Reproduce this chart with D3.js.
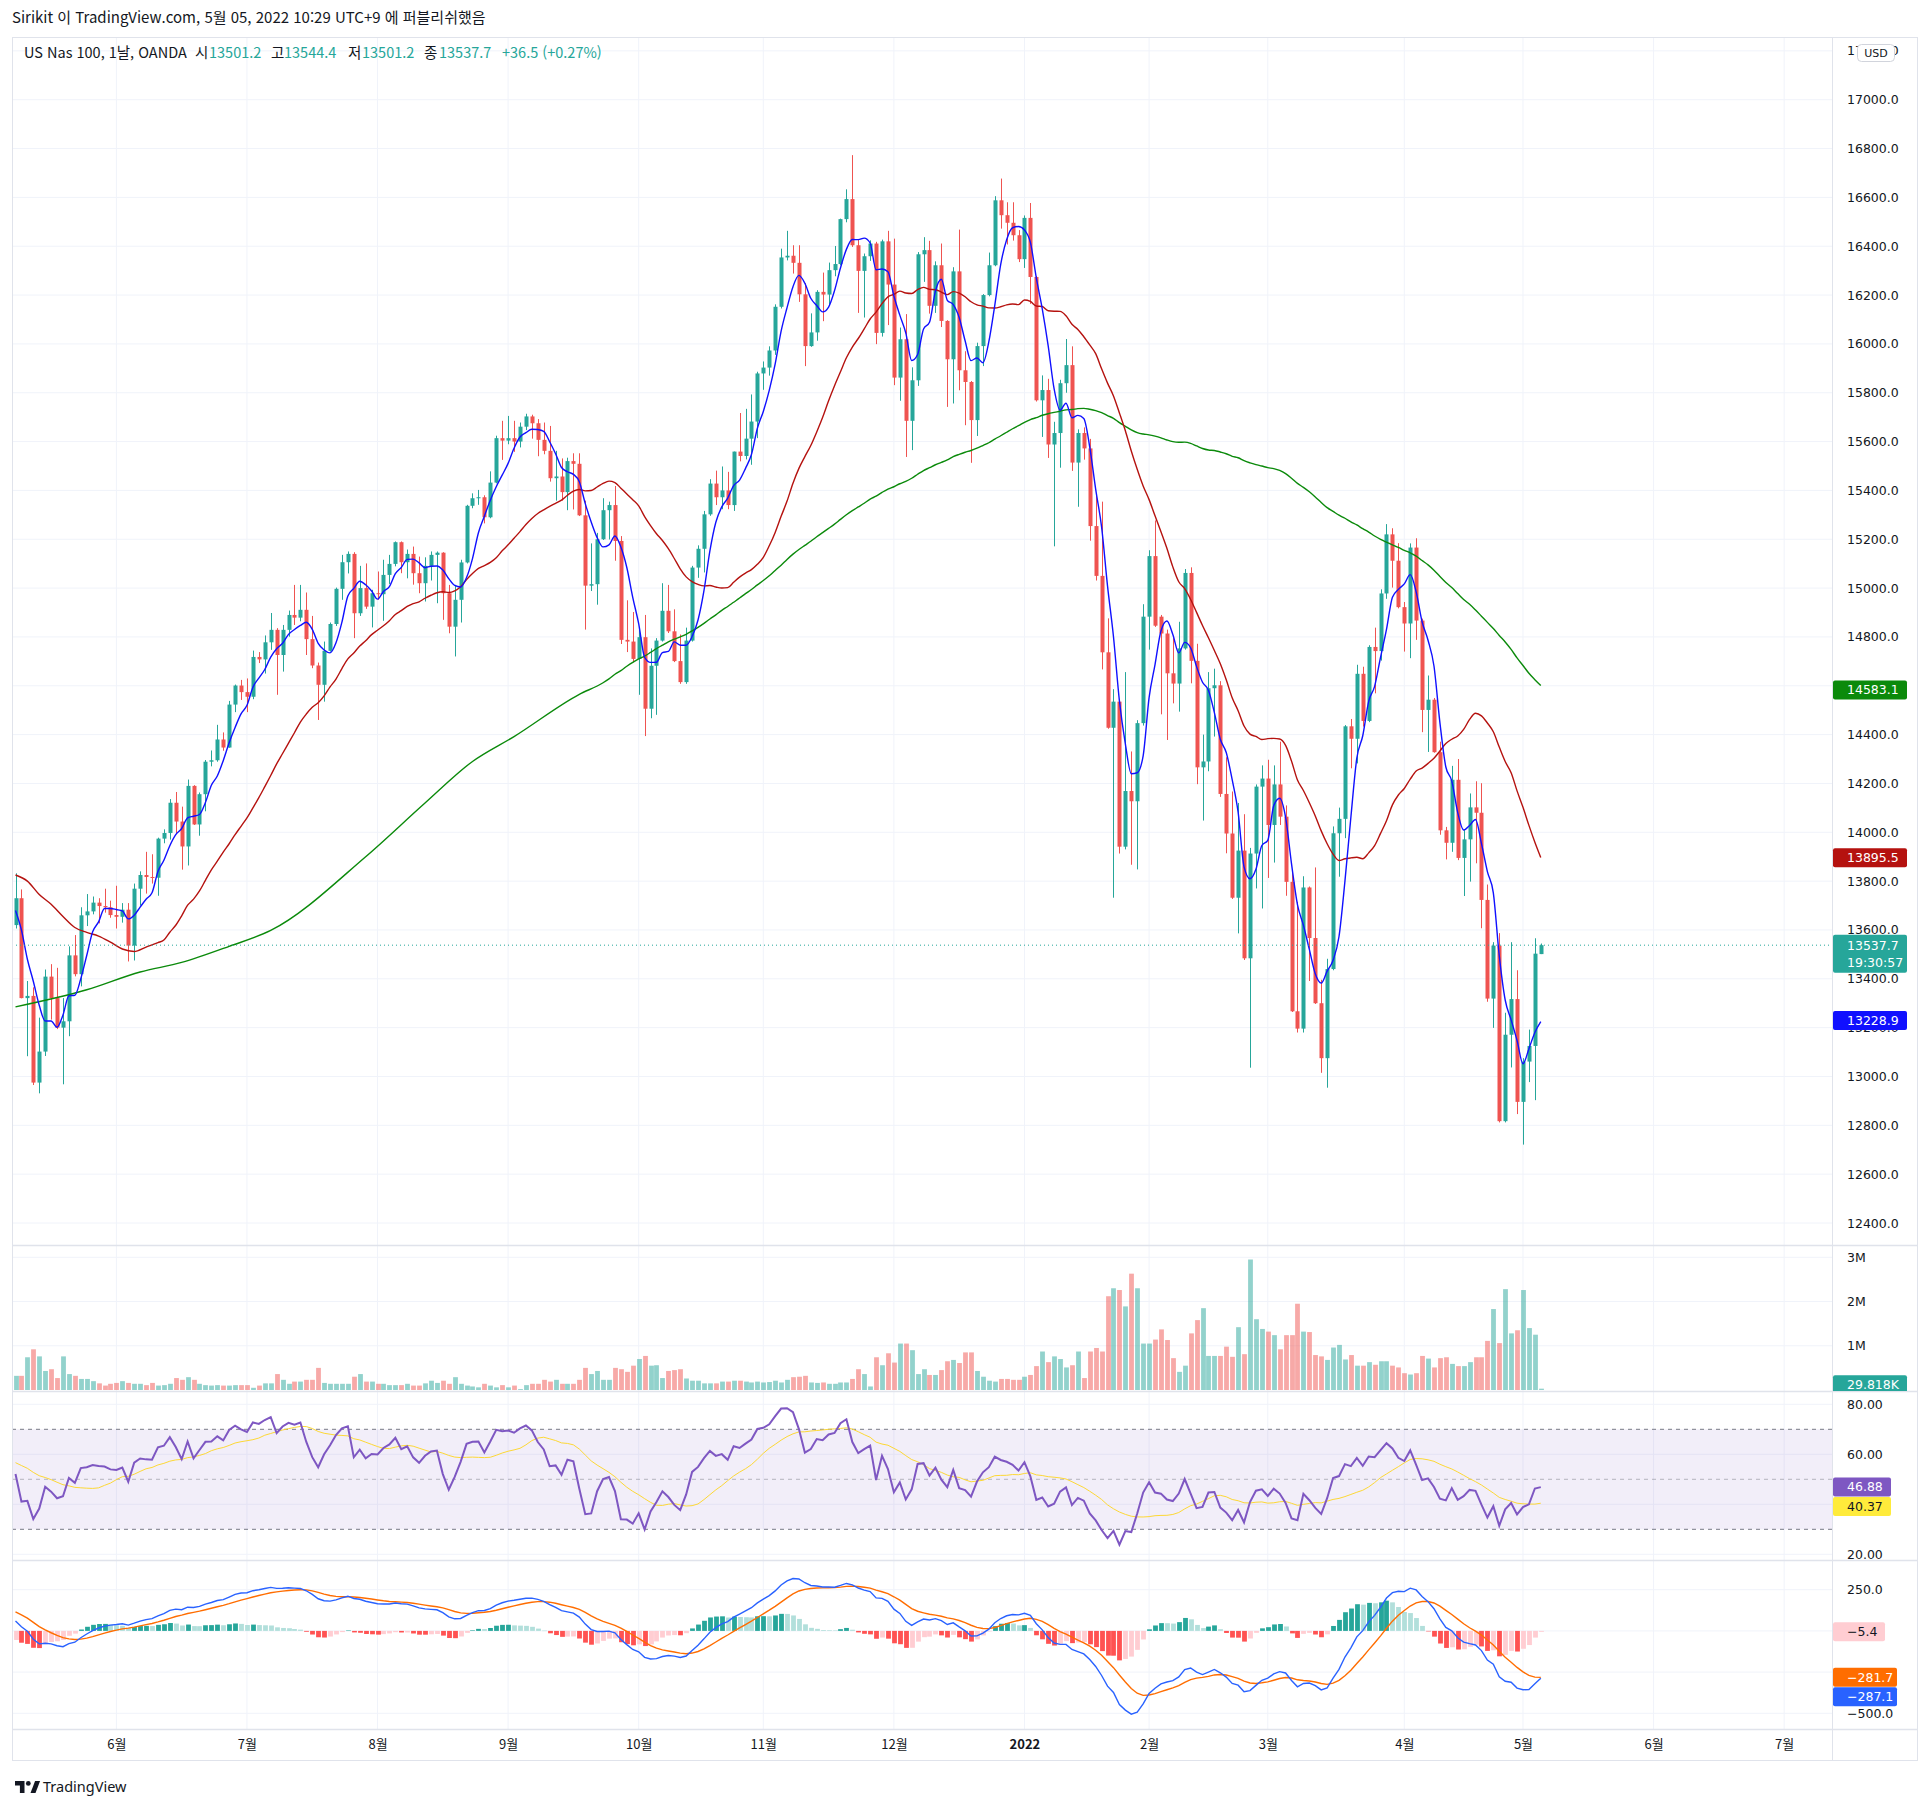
<!DOCTYPE html>
<html lang="ko">
<head>
<meta charset="UTF-8">
<title>US Nas 100, 1날, OANDA</title>
<script src="https://cdn.jsdelivr.net/npm/d3@7"></script>
<style>
  body { margin: 0; background: #ffffff; }
  svg { display: block; }
  .ax text { font-family: "DejaVu Sans", sans-serif; font-size: 12.5px; fill: #131722; }
  .ax .domain { display: none; }
  .tx text { font-family: "Noto Sans CJK KR", "Noto Sans", sans-serif; font-size: 13px; fill: #131722; }
  .tx .domain { display: none; }
</style>
</head>
<body>
<svg id="chart" width="1931" height="1808"></svg>
<script>
// ---- daily bars, 2021-05-07 .. 2022-05-05 (index based, as on the chart)
const opens = [
  13620,13730,13321,13330,12975,13102,13409,13321,13200,13226,
  13496,13419,13660,13676,13712,13698,13693,13661,13654,13683,
  13536,13769,13825,13817,13814,13974,13997,14121,14044,13942,
  14190,14032,14156,14289,14295,14380,14347,14523,14601,14574,
  14555,14718,14708,14778,14829,14726,14829,14890,14879,14911,
  14791,14683,14604,14743,14853,14997,15106,15140,14897,15000,
  14924,14979,14975,15054,15099,15188,15106,15140,15061,15020,
  15091,15136,15145,14979,14842,14952,15105,15337,15368,15372,
  15290,15432,15614,15604,15614,15600,15661,15703,15675,15607,
  15562,15450,15457,15393,15520,15509,15298,15010,15016,15200,
  15319,15340,15193,14788,14781,14710,14799,14506,14682,14785,
  14907,14823,14701,14615,14785,15084,15161,15302,15428,15372,
  15400,15340,15559,15541,15612,15682,15879,15903,15973,16152,
  16354,16361,16332,16203,15991,16047,16213,16202,16302,16327,
  16511,16593,16404,16299,16359,16411,16045,16420,16243,15862,
  16019,15685,15851,16367,16384,16156,16322,16094,15937,16297,
  15892,15844,15688,15991,16200,16322,16588,16527,16496,16445,
  16347,16516,16274,15769,15811,15588,15635,15839,15913,15514,
  15635,15572,15254,15050,14737,14428,14535,13941,14169,14127,
  14447,14883,15131,14883,14814,14651,14609,14753,15062,14702,
  14266,14290,14590,14602,14157,13995,13732,13925,13484,13913,
  14187,14220,14030,14196,14064,13797,13267,13196,13774,13567,
  13300,13075,13440,13996,14055,14434,14383,14649,14456,14759,
  14742,14978,15220,15112,14922,14855,15166,14867,14501,14543,
  14328,14008,13957,14215,13895,13971,14102,14080,13723,13319,
  13536,12817,13171,13317,12896,13061,13125,13501.2
];
const highs = [
  13832,13766,13391,13365,13241,13438,13460,13445,13321,13533,
  13579,13693,13747,13737,13730,13769,13720,13781,13710,13710,
  13790,13840,13920,13910,13978,14012,14136,14165,14105,14216,
  14193,14163,14296,14335,14440,14409,14538,14605,14624,14630,
  14744,14738,14806,14898,14836,14849,14908,15013,15013,14982,
  14886,14695,14781,14859,15002,15136,15150,15147,15091,15101,
  14993,15068,15116,15136,15191,15191,15158,15170,15129,15126,
  15150,15150,15147,15013,15013,15116,15341,15388,15402,15380,
  15478,15624,15685,15705,15685,15678,15714,15710,15692,15678,
  15664,15562,15531,15534,15552,15552,15358,15183,15226,15368,
  15354,15418,15213,14950,14902,14840,14890,14753,14795,15020,
  15013,14913,14810,14838,15091,15175,15316,15446,15481,15498,
  15476,15559,15717,15734,15793,15886,15928,15990,16162,16390,
  16463,16404,16404,16249,16125,16220,16292,16333,16401,16513,
  16633,16773,16427,16370,16424,16418,16427,16463,16431,16067,
  16122,15904,16376,16437,16422,16338,16411,16097,16314,16468,
  15970,15848,16005,16204,16374,16605,16677,16580,16580,16466,
  16526,16577,16278,15871,15857,15681,15853,16020,15990,15650,
  15658,15611,15384,15354,14876,14586,14535,14656,14331,14459,
  14934,15155,15277,14890,14830,14795,14862,15078,15085,14772,
  14400,14656,14670,14619,14307,14167,14120,14074,13936,14196,
  14274,14297,14274,14371,14110,13844,13715,13820,13778,13856,
  13396,13482,14024,14101,14439,14464,14686,14678,14766,14838,
  14995,15262,15245,15184,14943,15183,15204,14875,14642,14550,
  14371,14022,14272,14300,14012,14159,14209,14201,13786,13550,
  13587,13261,13550,13435,13075,13192,13566,13544.4
];
const lows = [
  13606,13320,13083,12965,12931,13084,13233,13194,12968,13165,
  13410,13369,13616,13664,13627,13671,13650,13606,13630,13471,
  13475,13700,13749,13790,13740,13955,13970,13995,13847,13864,
  14030,13986,14086,14270,14289,14334,14346,14492,14542,14492,
  14545,14693,14650,14747,14563,14658,14801,14849,14864,14726,
  14672,14460,14535,14740,14845,14952,15060,14795,14886,14915,
  14839,14952,14866,15017,15089,15061,15040,15014,14979,14945,
  15031,14938,14870,14815,14720,14859,15101,15327,15341,15265,
  15286,15429,15525,15589,15558,15576,15647,15612,15540,15548,
  15436,15358,15358,15319,15322,15295,14830,14988,14932,15197,
  15199,15112,14771,14738,14696,14563,14394,14467,14481,14781,
  14816,14697,14608,14608,14781,15042,15064,15296,15340,15323,
  15323,15316,15519,15527,15505,15614,15812,15870,15955,16145,
  16342,16288,16172,15909,15988,16013,16093,16156,16277,16322,
  16498,16397,16127,16108,16340,15999,16030,16077,15831,15767,
  15537,15565,15828,16254,16124,16127,16069,15742,15756,15810,
  15667,15513,15623,15909,16195,16318,16472,16407,16423,16335,
  16311,16164,15764,15619,15533,15171,15493,15800,15480,15333,
  15526,15194,15031,14667,14424,13732,13913,13930,13867,13848,
  14437,14748,14841,14483,14378,14528,14494,14748,14610,14197,
  14048,14250,14392,14145,13914,13727,13586,13477,13036,13770,
  13688,13813,13876,14030,13740,13264,13180,13180,13391,13297,
  13015,12954,13435,13818,13976,14262,14282,14433,14451,14569,
  14703,14956,15002,14917,14740,14713,14788,14410,14329,14326,
  13990,13889,13920,13886,13739,13798,13873,13607,13306,13199,
  12812,12812,13037,12846,12721,12977,12903,13501.2
];
const closes = [
  13730,13321,13330,12975,13102,13409,13321,13200,13226,13496,
  13419,13660,13676,13712,13698,13693,13661,13654,13683,13536,
  13769,13825,13817,13814,13974,13997,14121,14044,13942,14190,
  14032,14156,14289,14295,14380,14347,14523,14601,14574,14555,
  14718,14708,14778,14829,14726,14829,14890,14879,14911,14791,
  14683,14604,14743,14853,14997,15106,15140,14897,15000,14924,
  14979,14975,15054,15099,15188,15106,15140,15061,15020,15091,
  15136,15145,14979,14842,14952,15105,15337,15368,15372,15290,
  15432,15614,15604,15614,15600,15661,15703,15675,15607,15562,
  15450,15457,15393,15520,15509,15298,15010,15016,15200,15319,
  15340,15193,14788,14781,14710,14799,14506,14682,14785,14907,
  14823,14701,14615,14785,15084,15161,15302,15428,15372,15400,
  15340,15559,15541,15612,15682,15879,15903,15973,16152,16354,
  16361,16332,16203,15991,16047,16213,16202,16302,16327,16511,
  16593,16404,16299,16359,16411,16045,16420,16243,15862,16019,
  15685,15851,16367,16384,16156,16322,16094,15937,16297,15892,
  15844,15688,15991,16200,16322,16588,16527,16496,16445,16347,
  16516,16274,15769,15811,15588,15635,15839,15913,15514,15635,
  15572,15254,15050,14737,14428,14535,13941,14169,14127,14447,
  14883,15131,14846,14814,14651,14609,14753,15062,14702,14266,
  14290,14590,14602,14157,13995,13732,13925,13484,13913,14187,
  14220,14030,14196,14064,13797,13267,13196,13774,13567,13300,
  13075,13440,13996,14055,14434,14383,14649,14456,14759,14742,
  14978,15220,15112,14922,14855,15166,14867,14501,14543,14328,
  14008,13957,14215,13895,13971,14102,14080,13723,13319,13536,
  12817,13171,13317,12896,13061,13125,13503,13537.7
];
// volume, millions
const volumes = [
  .32,.32,.74,.92,.76,.43,.47,.27,.76,.36,
  .32,.25,.25,.20,.15,.10,.14,.16,.20,.16,
  .14,.14,.11,.16,.10,.11,.14,.27,.23,.29,
  .23,.14,.11,.10,.11,.10,.10,.11,.11,.11,
  .05,.10,.15,.15,.36,.23,.14,.19,.19,.23,
  .23,.50,.16,.14,.14,.14,.14,.30,.36,.19,
  .19,.14,.14,.11,.11,.11,.14,.10,.10,.15,
  .21,.16,.21,.14,.29,.14,.10,.08,.06,.14,
  .10,.06,.11,.06,.10,.02,.11,.14,.14,.23,
  .19,.23,.14,.14,.14,.23,.50,.36,.43,.23,
  .23,.50,.47,.41,.55,.70,.77,.55,.56,.27,
  .43,.45,.47,.26,.21,.21,.15,.15,.15,.19,
  .19,.21,.21,.19,.17,.19,.17,.18,.21,.17,
  .23,.29,.30,.32,.17,.16,.17,.14,.14,.17,
  .17,.25,.47,.36,.08,.74,.56,.83,.62,1.05,
  1.05,.90,.36,.47,.34,.34,.45,.65,.68,.61,
  .85,.85,.43,.30,.21,.19,.25,.25,.23,.23,
  .30,.34,.54,.87,.63,.76,.70,.51,.56,.87,
  .27,.87,.95,.87,2.12,2.30,2.26,1.89,2.63,2.30,
  1.05,1.05,1.14,1.37,1.13,.72,.41,.55,1.28,1.58,
  1.85,.77,.77,.77,.98,.75,1.42,.81,2.95,1.60,
  1.38,1.32,1.24,.92,1.24,1.24,1.95,1.32,1.31,.79,
  .76,.68,.96,1.02,.69,.79,.55,.55,.63,.57,
  .65,.65,.55,.51,.38,.35,.38,.77,.71,.51,
  .72,.74,.59,.54,.54,.63,.74,.74,1.11,1.83,
  1.06,2.28,1.28,1.35,2.26,1.40,1.25,.029818
];

// moving-average values read at the left edge, before each window is full
const sma5Early = [[0, 13680], [1, 13600], [2, 13480], [3, 13390]];
const sma25Early = [[0, 13825], [2, 13800], [4, 13745], [6, 13705], [8, 13655], [10, 13610],
                    [12, 13590], [14, 13575], [16, 13550], [18, 13522], [20, 13512], [22, 13530]];
const sma100Early = [[0, 13285], [12, 13355], [21, 13428], [28, 13467], [36, 13533], [43, 13598],
                     [59, 13900], [69, 14120], [77, 14290], [84, 14392], [95, 14565]];
// indicator state read at the first bar
const rsiSeed = { gain: 61, loss: 56, maBefore: 57 };
const macdSeed = { ema12: 13700, ema26: 13640, signal: 115 };

const monthTicks = [17, 39, 61, 83, 105, 126, 148, 170, 191, 211, 234, 254, 276, 298];
const monthLabels = ["6월", "7월", "8월", "9월", "10월", "11월", "12월", "2022", "2월", "3월", "4월", "5월", "6월", "7월"];

const priceTicks = d3.range(12400, 17201, 200);
const volTicks = [1, 2, 3];
const rsiTicks = [20, 40, 60, 80];
const macdTicks = [-500, -250, 0, 250];

// last-value badges on the scale
const priceBadges = [
  { v: 14583.1, text: "14583.1", bg: "#0b8a0b", fg: "#ffffff" },
  { v: 13895.5, text: "13895.5", bg: "#b5120f", fg: "#ffffff" },
  { v: 13228.9, text: "13228.9", bg: "#1010ff", fg: "#ffffff" }
];
const rsiBadges = [
  { v: 46.88, text: "46.88", bg: "#7e57c2", fg: "#ffffff" },
  { v: 40.37, text: "40.37", bg: "#ffeb3b", fg: "#131722" }
];
const macdBadges = [
  { v: -5.4, text: "−5.4", bg: "#ffcdd2", fg: "#131722" },
  { v: -281.7, text: "−281.7", bg: "#ff6d00", fg: "#ffffff" },
  { v: -287.1, text: "−287.1", bg: "#2962ff", fg: "#ffffff" }
];

// ---- layout
const svg = d3.select("#chart");
const plotL = 12, plotR = 1832, frameR = 1918, frameT = 37, frameB = 1761;
const panes = { main: [frameT, 1245], vol: [1245, 1391], rsi: [1391, 1560], macd: [1560, 1729] };
const upC = "#26a69a", dnC = "#ef5350";
const gridC = "#f0f3fa", lineC = "#e0e3eb";

const x = d3.scaleLinear().domain([0, 257]).range([15.5, 1540.8]);
const yP = d3.scaleLinear().domain([12400, 17000]).range([1223.0, 99.7]);
const yV = d3.scaleLinear().domain([0, 3]).range([1390, 1257.3]);
const yR = d3.scaleLinear().domain([20, 80]).range([1554.3, 1404.3]);
const yM = d3.scaleLinear().domain([-500, 250]).range([1713.3, 1589.7]);

// ---- indicators computed from the closes
function sma(vals, n, early) {
  const out = early.map(([i, v]) => ({ i, v }));
  for (let i = n - 1; i < vals.length; i++) out.push({ i, v: d3.mean(vals.slice(i - n + 1, i + 1)) });
  return out;
}
const ma5 = sma(closes, 5, sma5Early);
const ma25 = sma(closes, 25, sma25Early);
const ma100 = sma(closes, 100, sma100Early);

const rsi = [];
let ag = rsiSeed.gain, al = rsiSeed.loss;
closes.forEach((c, i) => {
  if (i > 0) {
    const ch = c - closes[i - 1];
    ag = (ag * 13 + Math.max(ch, 0)) / 14;
    al = (al * 13 + Math.max(-ch, 0)) / 14;
  }
  rsi.push(100 - 100 / (1 + ag / al));
});
const rsiMa = rsi.map((_, i) => {
  const w = rsi.slice(Math.max(0, i - 13), i + 1);
  return (d3.sum(w) + (14 - w.length) * rsiSeed.maBefore) / 14;
});

const macd = [], signal = [], hist = [];
let e12 = macdSeed.ema12, e26 = macdSeed.ema26, sig = macdSeed.signal;
closes.forEach((c, i) => {
  if (i > 0) { e12 += (c - e12) * 2 / 13; e26 += (c - e26) * 2 / 27; }
  const m = e12 - e26;
  if (i > 0) sig += (m - sig) * 0.2;
  macd.push(m); signal.push(sig); hist.push(m - sig);
});

// ---- header
svg.append("text")
  .attr("x", 12).attr("y", 23)
  .style("font-family", '"Noto Sans CJK KR", "Noto Sans", sans-serif')
  .style("font-size", "15px").style("fill", "#131722")
  .text("Sirikit 이 TradingView.com, 5월 05, 2022 10:29 UTC+9 에 퍼블리쉬했음");

// ---- grid
const grid = svg.append("g");
grid.selectAll("line.v").data(monthTicks).join("line")
  .attr("x1", d => x(d)).attr("x2", d => x(d))
  .attr("y1", frameT).attr("y2", panes.macd[1])
  .attr("stroke", gridC).attr("stroke-width", 1);
function hGrid(ticks, y, range) {
  grid.selectAll(null).data(ticks.filter(t => y(t) > range[0] && y(t) < range[1])).join("line")
    .attr("x1", plotL).attr("x2", plotR)
    .attr("y1", d => y(d)).attr("y2", d => y(d))
    .attr("stroke", gridC).attr("stroke-width", 1);
}
hGrid(priceTicks, yP, panes.main);
hGrid(volTicks, yV, panes.vol);
hGrid(rsiTicks, yR, panes.rsi);
hGrid(macdTicks, yM, panes.macd);

// clip paths
const defs = svg.append("defs");
Object.entries(panes).forEach(([k, [t, b]]) => {
  defs.append("clipPath").attr("id", "clip-" + k)
    .append("rect").attr("x", plotL).attr("y", t).attr("width", plotR - plotL).attr("height", b - t);
});

// ---- main pane: candles + moving averages
const main = svg.append("g").attr("clip-path", "url(#clip-main)");
const bars = d3.range(closes.length).map(i => ({ i, o: opens[i], h: highs[i], l: lows[i], c: closes[i], up: closes[i] >= opens[i] }));
const bw = 4;

main.selectAll("line.wick").data(bars).join("line")
  .attr("x1", d => Math.round(x(d.i)) + 0.5).attr("x2", d => Math.round(x(d.i)) + 0.5)
  .attr("y1", d => yP(d.h)).attr("y2", d => yP(d.l))
  .attr("stroke", d => d.up ? upC : dnC).attr("stroke-width", 1);
main.selectAll("rect.body").data(bars).join("rect")
  .attr("x", d => Math.round(x(d.i)) + 0.5 - bw / 2)
  .attr("width", bw)
  .attr("y", d => yP(Math.max(d.o, d.c)))
  .attr("height", d => Math.max(1, Math.abs(yP(d.o) - yP(d.c))))
  .attr("fill", d => d.up ? upC : dnC);

const maLine = d3.line().x(d => x(d.i)).y(d => yP(d.v)).curve(d3.curveMonotoneX);
main.append("path").attr("d", maLine(ma100)).attr("fill", "none").attr("stroke", "#0b8a0b").attr("stroke-width", 1.4);
main.append("path").attr("d", maLine(ma25)).attr("fill", "none").attr("stroke", "#b5120f").attr("stroke-width", 1.4);
main.append("path").attr("d", maLine(ma5)).attr("fill", "none").attr("stroke", "#1010ff").attr("stroke-width", 1.4);

// last price line
const last = closes[closes.length - 1];
svg.append("line")
  .attr("x1", plotL).attr("x2", plotR).attr("y1", yP(last)).attr("y2", yP(last))
  .attr("stroke", upC).attr("stroke-width", 1).attr("stroke-dasharray", "1,3");

// ---- volume pane
const vol = svg.append("g").attr("clip-path", "url(#clip-vol)");
vol.selectAll("rect").data(bars).join("rect")
  .attr("x", d => Math.round(x(d.i)) + 0.5 - 2.4)
  .attr("width", 4.8)
  .attr("y", d => yV(volumes[d.i]))
  .attr("height", d => Math.max(0.5, yV(0) - yV(volumes[d.i])))
  .attr("fill", d => d.up ? "rgba(38,166,154,0.5)" : "rgba(239,83,80,0.5)");

// ---- RSI pane
const rg = svg.append("g").attr("clip-path", "url(#clip-rsi)");
rg.append("rect").attr("x", plotL).attr("width", plotR - plotL)
  .attr("y", yR(70)).attr("height", yR(30) - yR(70))
  .attr("fill", "#7e57c2").attr("fill-opacity", 0.1);
[[70, "#787b86"], [30, "#787b86"], [50, "rgba(120,123,134,0.5)"]].forEach(([v, c]) => {
  rg.append("line").attr("x1", plotL).attr("x2", plotR).attr("y1", yR(v)).attr("y2", yR(v))
    .attr("stroke", c).attr("stroke-width", 1).attr("stroke-dasharray", "4,4");
});
const rLine = d3.line().x((d, i) => x(i)).y(d => yR(d));
rg.append("path").attr("d", rLine(rsiMa)).attr("fill", "none").attr("stroke", "#fdd835").attr("stroke-width", 1);
rg.append("path").attr("d", rLine(rsi)).attr("fill", "none").attr("stroke", "#7e57c2").attr("stroke-width", 2);

// ---- MACD pane
const mg = svg.append("g").attr("clip-path", "url(#clip-macd)");
mg.selectAll("rect").data(hist).join("rect")
  .attr("x", (d, i) => Math.round(x(i)) + 0.5 - 2.4)
  .attr("width", 4.8)
  .attr("y", d => Math.min(yM(d), yM(0)))
  .attr("height", d => Math.max(0.5, Math.abs(yM(d) - yM(0))))
  .attr("fill", (d, i) => {
    const p = i > 0 ? hist[i - 1] : d;
    if (d >= 0) return d >= p ? "#26a69a" : "#b2dfdb";
    return d < p ? "#ff5252" : "#ffcdd2";
  });
const mLine = d3.line().x((d, i) => x(i)).y(d => yM(d));
mg.append("path").attr("d", mLine(signal)).attr("fill", "none").attr("stroke", "#ff6d00").attr("stroke-width", 1.4);
mg.append("path").attr("d", mLine(macd)).attr("fill", "none").attr("stroke", "#2962ff").attr("stroke-width", 1.4);

// ---- frame and pane separators
svg.append("rect").attr("x", plotL + 0.5).attr("y", frameT + 0.5)
  .attr("width", frameR - plotL - 1).attr("height", frameB - frameT - 1)
  .attr("fill", "none").attr("stroke", lineC);
svg.append("line").attr("x1", plotR + 0.5).attr("x2", plotR + 0.5).attr("y1", frameT).attr("y2", frameB)
  .attr("stroke", lineC);
[panes.vol[0], panes.rsi[0], panes.macd[0], panes.macd[1]].forEach(y => {
  svg.append("line").attr("x1", plotL).attr("x2", frameR).attr("y1", y + 0.5).attr("y2", y + 0.5)
    .attr("stroke", lineC).attr("stroke-width", 1.5);
});

// ---- badges placement (stacked so they do not collide)
function stack(list, y) {
  const items = list.map(d => ({ ...d, yc: y(d.v) })).sort((a, b) => a.yc - b.yc);
  for (let k = 1; k < items.length; k++) if (items[k].yc - items[k - 1].yc < 19.5) items[k].yc = items[k - 1].yc + 19.5;
  return items;
}
const pB = stack(priceBadges, yP), rB = stack(rsiBadges, yR), mB = stack(macdBadges, yM);

// ---- value axes (tick labels fully hidden under a badge are left out)
function rightAxis(y, ticks, fmt, range, badges) {
  const shown = ticks.filter(t => y(t) > range[0] - 8 && y(t) < range[1] + 4)
    .filter(t => !badges.some(b => Math.abs(b.yc - y(t)) < 6.5));
  svg.append("g").attr("class", "ax").attr("transform", `translate(${plotR},0)`)
    .call(d3.axisRight(y).tickValues(shown).tickFormat(fmt).tickSize(0).tickPadding(15));
}
rightAxis(yP, priceTicks, d3.format(".1f"), panes.main, pB);
rightAxis(yV, volTicks, d => d + "M", panes.vol, []);
rightAxis(yR, rsiTicks, d3.format(".2f"), panes.rsi, rB);
rightAxis(yM, macdTicks, d3.format(".1f"), panes.macd, mB);

// time axis
const tAx = svg.append("g").attr("class", "tx").attr("transform", `translate(0,${panes.macd[1]})`)
  .call(d3.axisBottom(x).tickValues(monthTicks).tickFormat((d, i) => monthLabels[i]).tickSize(0).tickPadding(11));
tAx.selectAll("text").style("font-weight", (d, i) => monthLabels[i] === "2022" ? "bold" : "normal");

// ---- badges
function badge(yc, text, bg, fg, w, clipId) {
  const g = svg.append("g");
  if (clipId) g.attr("clip-path", `url(#${clipId})`);
  g.append("rect").attr("x", plotR + 1).attr("y", yc - 9.5).attr("width", w).attr("height", 19)
    .attr("rx", 2).attr("fill", bg);
  g.append("text").attr("x", plotR + 15).attr("y", yc).attr("dy", "0.35em")
    .style("font-family", '"DejaVu Sans", sans-serif').style("font-size", "12.5px").style("fill", fg)
    .text(text);
}
pB.forEach(d => badge(d.yc, d.text, d.bg, d.fg, 74));
rB.forEach(d => badge(d.yc, d.text, d.bg, d.fg, 58));
mB.forEach(d => badge(d.yc, d.text, d.bg, d.fg, d.text.length > 5 ? 64 : 52));

// clip path for the volume scale column
defs.append("clipPath").attr("id", "clip-volax")
  .append("rect").attr("x", plotR).attr("y", panes.vol[0]).attr("width", frameR - plotR).attr("height", panes.vol[1] - panes.vol[0]);
badge(yV(volumes[volumes.length - 1]) - 4, "29.818K", upC, "#ffffff", 74, "clip-volax");

// last price badge with countdown
const yl = yP(last);
svg.append("rect").attr("x", plotR + 1).attr("y", yl - 10.5).attr("width", 74).attr("height", 38)
  .attr("rx", 2).attr("fill", upC);
svg.append("text").attr("x", plotR + 15).attr("y", yl).attr("dy", "0.35em")
  .style("font-family", '"DejaVu Sans", sans-serif').style("font-size", "12.5px").style("fill", "#ffffff")
  .text(d3.format(".1f")(last));
svg.append("text").attr("x", plotR + 15).attr("y", yl + 17).attr("dy", "0.35em")
  .style("font-family", '"DejaVu Sans", sans-serif').style("font-size", "12.5px").style("fill", "#ffffff")
  .text("19:30:57");

// currency badge
svg.append("rect").attr("x", 1857.5).attr("y", 44.5).attr("width", 37).attr("height", 17).attr("rx", 4)
  .attr("fill", "#ffffff").attr("stroke", "#d1d4dc");
svg.append("text").attr("x", 1876).attr("y", 53).attr("dy", "0.35em").attr("text-anchor", "middle")
  .style("font-family", '"DejaVu Sans", sans-serif').style("font-size", "11px").style("fill", "#131722")
  .text("USD");

// ---- legend
const lg = svg.append("text").attr("y", 53).attr("dy", "0.35em")
  .style("font-family", '"Noto Sans CJK KR", "Noto Sans", sans-serif').style("font-size", "14.5px");
const legendParts = [
  [24, "US Nas 100, 1날, OANDA", "#131722"],
  [195, "시", "#131722"], [209, "13501.2", upC],
  [271, "고", "#131722"], [284, "13544.4", upC],
  [348, "저", "#131722"], [362, "13501.2", upC],
  [424, "종", "#131722"], [439, "13537.7", upC],
  [502, "+36.5 (+0.27%)", upC]
];
legendParts.forEach(([px, t, c]) => lg.append("tspan").attr("x", px).style("fill", c).text(t));

// ---- TradingView mark
const logo = svg.append("g").attr("fill", "#131722");
logo.append("path").attr("d", "M15,1781 h9.5 v12 h-4.6 v-7.6 h-4.9 z");
logo.append("circle").attr("cx", 28.3).attr("cy", 1783.4).attr("r", 2.4);
logo.append("path").attr("d", "M30.5,1793 l4.6,-12 h5 l-4.6,12 z");
svg.append("text").attr("x", 43).attr("y", 1792)
  .style("font-family", '"Noto Sans", sans-serif').style("font-size", "14.5px").style("fill", "#131722")
  .text("TradingView");
</script>
</body>
</html>
